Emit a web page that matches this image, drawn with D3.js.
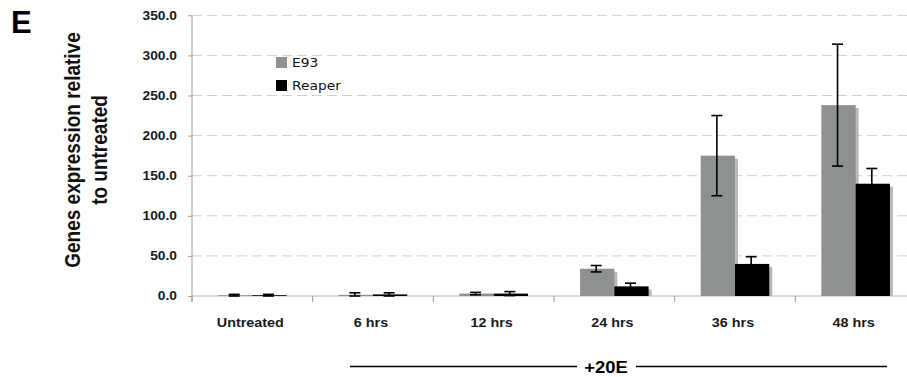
<!DOCTYPE html>
<html>
<head>
<meta charset="utf-8">
<script src="https://cdn.jsdelivr.net/npm/d3@7/dist/d3.min.js"></script>
<style>
  html, body { margin: 0; padding: 0; background: #fff; }
  svg { display: block; }
</style>
</head>
<body>
<svg id="chart" width="907" height="377"></svg>
<script>
// Gene expression after 20E treatment, relative to untreated
const categories = ["Untreated", "6 hrs", "12 hrs", "24 hrs", "36 hrs", "48 hrs"];
const seriesNames = ["E93", "Reaper"];
const e93Values   = [1.0, 1.5, 3.0, 34.0, 175.0, 238.0];
const e93Errors   = [1.0, 2.5, 1.5, 4.0, 50.0, 76.0];
const reaperValues = [1.0, 2.0, 3.0, 12.0, 40.0, 140.0];
const reaperErrors = [1.0, 2.0, 2.5, 4.0, 9.0, 19.0];
const yTicks = [0, 50, 100, 150, 200, 250, 300, 350];

const colors = { "E93": "#8d9191", "Reaper": "#000000" };
const STRETCH = 1.15; // horizontal text stretch

const rows = [];
categories.forEach((c, i) => {
  rows.push({ cat: c, series: "E93", value: e93Values[i], err: e93Errors[i] });
  rows.push({ cat: c, series: "Reaper", value: reaperValues[i], err: reaperErrors[i] });
});

const svg = d3.select("#chart");

const x0 = d3.scaleBand().domain(categories).range([192, 916]).paddingInner(0).paddingOuter(0);
const x1 = d3.scaleBand().domain(seriesNames).range([0, x0.bandwidth()]).paddingInner(0).paddingOuter(0.76);
const y = d3.scaleLinear().domain([0, 350]).range([296, 15.3]);

// dashed gridlines
svg.append("g")
  .selectAll("line")
  .data(yTicks.filter(t => t > 0))
  .join("line")
  .attr("x1", 192).attr("x2", 907)
  .attr("y1", d => y(d)).attr("y2", d => y(d))
  .attr("stroke", "#cfcfcf")
  .attr("stroke-width", 1)
  .attr("stroke-dasharray", "10,5");

// x baseline and category ticks
const xAxis = d3.axisBottom(x0).tickSize(6).tickFormat("");
const gx = svg.append("g").attr("transform", `translate(0,${y(0)})`).call(xAxis);
gx.select(".domain").attr("stroke", "#b8b8b8").attr("d", `M192,0H907`);
gx.selectAll(".tick line")
  .attr("stroke", "#9a9a9a")
  .attr("transform", d => `translate(${-x0.bandwidth() / 2},0)`);

// y axis
const yAxis = d3.axisLeft(y).tickValues(yTicks).tickSize(4).tickFormat("");
const gy = svg.append("g").attr("transform", "translate(192,0)").call(yAxis);
gy.select(".domain").attr("stroke", "#9a9a9a").attr("d", `M0,${y(350)}V${y(0) + 6}`);
gy.selectAll(".tick line").attr("stroke", "#9a9a9a");

// y tick labels
svg.append("g")
  .selectAll("text")
  .data(yTicks)
  .join("text")
  .attr("transform", d => `translate(177,${y(d)}) scale(${STRETCH},1)`)
  .attr("text-anchor", "end")
  .attr("dy", "0.36em")
  .attr("font-family", "Liberation Sans, Arial, sans-serif")
  .attr("font-weight", "bold")
  .attr("font-size", 12)
  .attr("fill", "#1a1a1a")
  .text(d => d3.format(".1f")(d));

// x category labels
svg.append("g")
  .selectAll("text")
  .data(categories)
  .join("text")
  .attr("transform", d => `translate(${x0(d) + x0.bandwidth() / 2 - 2},326.5) scale(${STRETCH},1)`)
  .attr("text-anchor", "middle")
  .attr("font-family", "Liberation Sans, Arial, sans-serif")
  .attr("font-weight", "bold")
  .attr("font-size", 12.5)
  .attr("fill", "#1a1a1a")
  .text(d => d);

// bar shadows
const barX = d => x0(d.cat) + x1(d.series);
svg.append("g")
  .selectAll("rect")
  .data(rows)
  .join("rect")
  .attr("x", d => barX(d) + 3)
  .attr("y", d => y(d.value) + 3)
  .attr("width", x1.bandwidth())
  .attr("height", d => Math.max(0, y(0) - y(d.value) - 3))
  .attr("fill", "#b9b9b9");

// bars
svg.append("g")
  .selectAll("rect")
  .data(rows)
  .join("rect")
  .attr("x", d => barX(d))
  .attr("y", d => y(d.value))
  .attr("width", x1.bandwidth())
  .attr("height", d => y(0) - y(d.value))
  .attr("fill", d => colors[d.series]);

// error bars
const eb = svg.append("g").attr("stroke", "#000").attr("stroke-width", 1.6).attr("fill", "none");
const capHalf = 5.5;
rows.forEach(d => {
  const cx = barX(d) + x1.bandwidth() / 2 - 1;
  const top = y(d.value + d.err);
  const bot = y(Math.max(0, d.value - d.err));
  eb.append("line").attr("x1", cx).attr("x2", cx).attr("y1", top).attr("y2", bot);
  eb.append("line").attr("x1", cx - capHalf).attr("x2", cx + capHalf).attr("y1", top).attr("y2", top);
  eb.append("line").attr("x1", cx - capHalf).attr("x2", cx + capHalf).attr("y1", bot).attr("y2", bot);
});

// legend
const legend = svg.append("g");
seriesNames.forEach((s, i) => {
  const ly = 57 + i * 23;
  legend.append("rect").attr("x", 276).attr("y", ly).attr("width", 11).attr("height", 11).attr("fill", colors[s]);
  legend.append("text")
    .attr("transform", `translate(292,${ly + 10}) scale(${STRETCH},1)`)
    .attr("font-family", "DejaVu Sans, Verdana, sans-serif")
    .attr("font-size", 12)
    .attr("fill", "#111")
    .text(s);
});

// y axis title
const title = ["Genes expression relative", "to untreated"];
title.forEach((t, i) => {
  svg.append("text")
    .attr("transform", `translate(${80 + i * 27},150) scale(${STRETCH},1) rotate(-90)`)
    .attr("text-anchor", "middle")
    .attr("font-family", "Liberation Sans, Arial, sans-serif")
    .attr("font-weight", "bold")
    .attr("font-size", 19)
    .attr("fill", "#111")
    .text(t);
});

// panel letter
svg.append("text")
  .attr("x", 11).attr("y", 33)
  .attr("font-family", "Liberation Sans, Arial, sans-serif")
  .attr("font-weight", "bold")
  .attr("font-size", 31)
  .attr("fill", "#000")
  .text("E");

// treatment bracket
const bracket = svg.append("g");
bracket.append("line").attr("x1", 350).attr("x2", 577).attr("y1", 366.5).attr("y2", 366.5)
  .attr("stroke", "#000").attr("stroke-width", 1.6);
bracket.append("line").attr("x1", 636).attr("x2", 887).attr("y1", 366.5).attr("y2", 366.5)
  .attr("stroke", "#000").attr("stroke-width", 1.6);
bracket.append("text")
  .attr("transform", `translate(606,372.5) scale(${STRETCH},1)`)
  .attr("text-anchor", "middle")
  .attr("font-family", "Liberation Sans, Arial, sans-serif")
  .attr("font-weight", "bold")
  .attr("font-size", 16)
  .attr("fill", "#000")
  .text("+20E");
</script>
</body>
</html>
